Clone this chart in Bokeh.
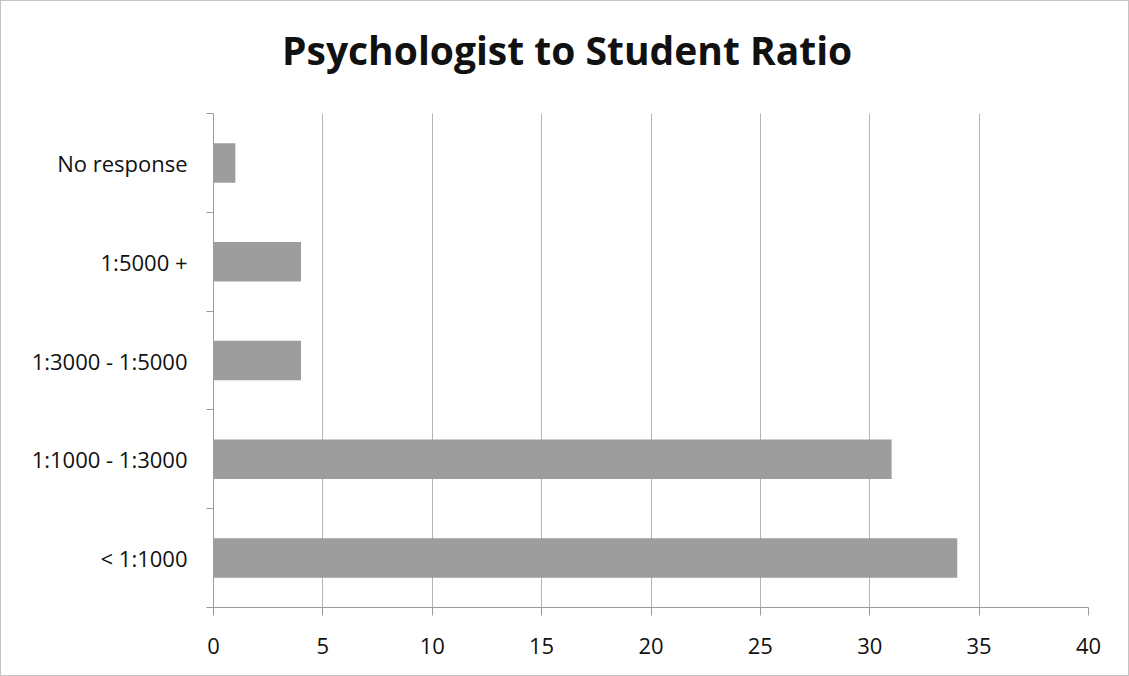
from bokeh.plotting import figure
from bokeh.layouts import column
from bokeh.models import FixedTicker, Div
from bokeh.embed import file_html
from bokeh.resources import INLINE

# Survey responses per ratio band (bottom to top)
categories = ["< 1:1000", "1:1000 - 1:3000", "1:3000 - 1:5000", "1:5000 +", "No response"]
counts = [34, 31, 4, 4, 1]
x_ticks = [0, 5, 10, 15, 20, 25, 30, 35, 40]

centers = [i + 0.5 for i in range(len(categories))]
bounds = list(range(len(categories) + 1))

FONT = "Open Sans"
GRID = "#b4b4b4"
AXIS = "#9a9a9a"
HEAD_H = 80

heading = Div(
    text="Psychologist to Student Ratio",
    width=1127, height=HEAD_H, margin=0,
    styles={
        "font-family": FONT, "font-weight": "bold", "font-size": "39px",
        "line-height": "39px", "color": "#111111",
        "padding-top": "29px", "padding-left": "281px",
        "box-sizing": "border-box", "background": "white",
    },
)

p = figure(
    width=1127, height=674 - HEAD_H,
    x_range=(0, 40), y_range=(0, len(categories)),
    output_backend="svg", toolbar_location=None,
    min_border_left=212, min_border_right=40,
    min_border_top=112 - HEAD_H, min_border_bottom=68,
    margin=0,
)
p.outline_line_color = None
p.background_fill_color = "white"
p.border_fill_color = "white"

p.hbar(y=centers, right=counts, left=0, height=0.4,
       fill_color="#9d9d9d", line_color=None)

# x axis
p.xaxis.ticker = FixedTicker(ticks=x_ticks)
p.xaxis.axis_line_color = AXIS
p.xaxis.major_tick_line_color = AXIS
p.xaxis.major_tick_out = 8
p.xaxis.major_tick_in = 0
p.xaxis.minor_tick_line_color = None
p.xaxis.major_label_text_font = FONT
p.xaxis.major_label_text_font_size = "22px"
p.xaxis.major_label_text_color = "#111111"
p.xaxis.major_label_standoff = 22

# y axis: labels at band centers, tick marks at band boundaries
p.yaxis.ticker = FixedTicker(ticks=centers, minor_ticks=bounds)
p.yaxis.major_label_overrides = {c: lab for c, lab in zip(centers, categories)}
p.yaxis.axis_line_color = AXIS
p.yaxis.major_tick_line_color = None
p.yaxis.minor_tick_line_color = AXIS
p.yaxis.minor_tick_out = 7
p.yaxis.minor_tick_in = 0
p.yaxis.major_label_text_font = FONT
p.yaxis.major_label_text_font_size = "22px"
p.yaxis.major_label_text_color = "#111111"
p.yaxis.major_label_standoff = 19

p.xgrid.ticker = FixedTicker(ticks=x_ticks)
p.xgrid.grid_line_color = GRID
p.ygrid.grid_line_color = None

page = column(heading, p, spacing=0, margin=0,
              styles={"border": "1px solid #c4c4c4", "background": "white"})

open("out.html", "w").write(file_html(page, INLINE))
